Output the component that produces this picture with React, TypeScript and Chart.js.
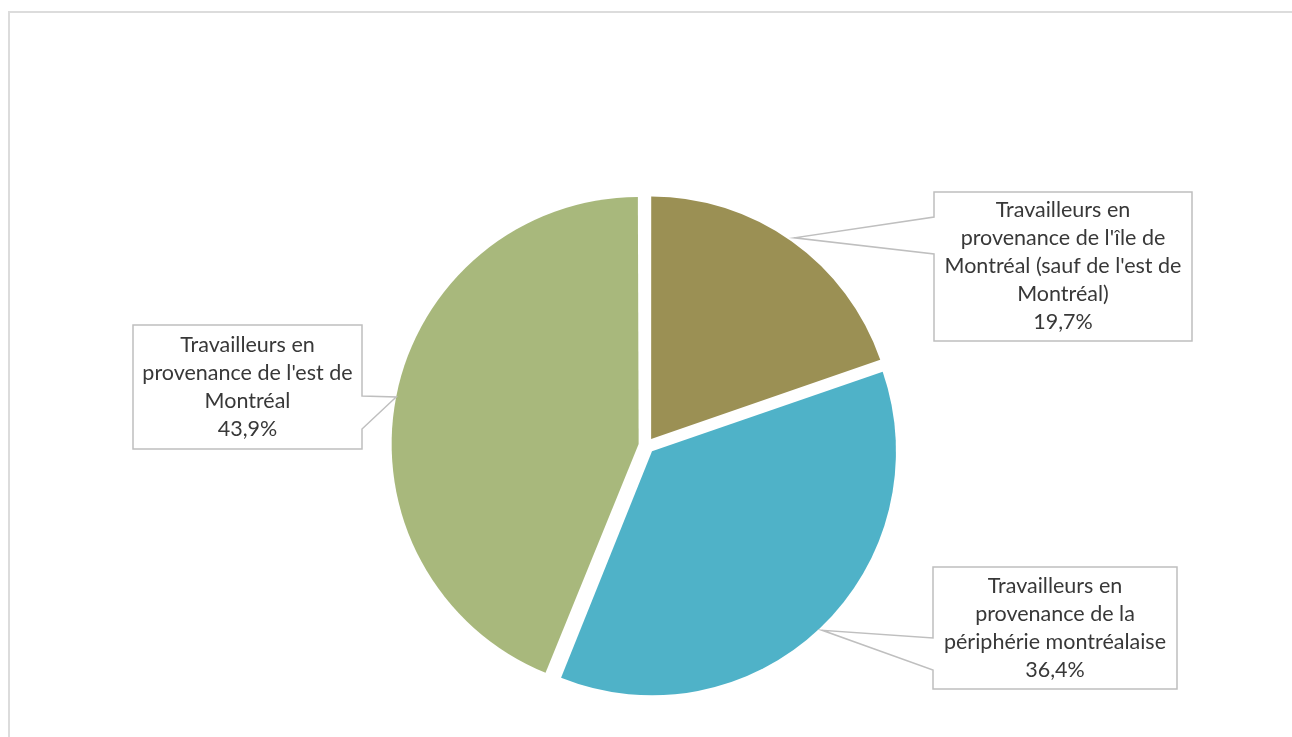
import React, { useEffect, useRef } from "react";
import { Chart, registerables } from "chart.js";

Chart.register(...registerables);

// ---- data ----
const categories = [
  "Travailleurs en provenance de l'île de Montréal (sauf de l'est de Montréal)",
  "Travailleurs en provenance de la périphérie montréalaise",
  "Travailleurs en provenance de l'est de Montréal",
];
const values = [19.7, 36.4, 43.9];
const labelLines = [
  ["Travailleurs en", "provenance de l'île de", "Montréal (sauf de l'est de", "Montréal)"],
  ["Travailleurs en", "provenance de la", "périphérie montréalaise"],
  ["Travailleurs en", "provenance de l'est de", "Montréal"],
];
const colors = ["#9B9054", "#4FB2C8", "#A8B87C"];

// ---- layout (callout boxes) ----
const callouts = [
  { x: 934, y: 192, w: 258, h: 149, side: "left", g1: 217, g2: 254 },
  { x: 933, y: 567, w: 244, h: 122, side: "left", g1: 638, g2: 670 },
  { x: 133, y: 325, w: 229, h: 124, side: "right", g1: 396, g2: 429 },
];

const OFFSET = 32; // chart.js translates arcs by offset/4
const fmt = (v: number) => v.toFixed(1).replace(".", ",") + "%";

const calloutPlugin = {
  id: "callouts",
  beforeDraw(chart: any) {
    const ctx = chart.ctx;
    ctx.save();
    ctx.strokeStyle = "#dcdcdc";
    ctx.lineWidth = 2;
    ctx.beginPath();
    ctx.moveTo(9, 1000);
    ctx.lineTo(9, 12);
    ctx.lineTo(2000, 12);
    ctx.stroke();
    ctx.restore();
  },
  afterDatasetsDraw(chart: any) {
    const ctx = chart.ctx;
    const meta = chart.getDatasetMeta(0);
    ctx.save();
    meta.data.forEach((arc: any, i: number) => {
      const { x, y, startAngle, endAngle, outerRadius } = arc.getProps(
        ["x", "y", "startAngle", "endAngle", "outerRadius"],
        true
      );
      const mid = (startAngle + endAngle) / 2;
      const d = OFFSET / 4 + outerRadius + 5;
      const tx = x + Math.cos(mid) * d;
      const ty = y + Math.sin(mid) * d;
      const c = callouts[i];
      ctx.beginPath();
      if (c.side === "left") {
        ctx.moveTo(c.x, c.y);
        ctx.lineTo(c.x + c.w, c.y);
        ctx.lineTo(c.x + c.w, c.y + c.h);
        ctx.lineTo(c.x, c.y + c.h);
        ctx.lineTo(c.x, c.g2);
        ctx.lineTo(tx, ty);
        ctx.lineTo(c.x, c.g1);
        ctx.closePath();
      } else {
        ctx.moveTo(c.x, c.y);
        ctx.lineTo(c.x + c.w, c.y);
        ctx.lineTo(c.x + c.w, c.g1);
        ctx.lineTo(tx, ty);
        ctx.lineTo(c.x + c.w, c.g2);
        ctx.lineTo(c.x + c.w, c.y + c.h);
        ctx.lineTo(c.x, c.y + c.h);
        ctx.closePath();
      }
      ctx.fillStyle = "#ffffff";
      ctx.fill();
      ctx.strokeStyle = "#bfbfbf";
      ctx.lineWidth = 1.5;
      ctx.stroke();

      const lines = [...labelLines[i], fmt(values[i])];
      const lh = 28;
      const cx = c.x + c.w / 2;
      const cy = c.y + c.h / 2;
      ctx.fillStyle = "#383838";
      ctx.font = "21.5px Lato";
      ctx.textAlign = "center";
      ctx.textBaseline = "middle";
      lines.forEach((t, k) => {
        ctx.fillText(t, cx, cy + (k - (lines.length - 1) / 2) * lh);
      });
    });
    ctx.restore();
  },
};

export default function App() {
  const ref = useRef<HTMLCanvasElement>(null);
  useEffect(() => {
    if (!ref.current) return;
    const chart = new Chart(ref.current, {
      type: "pie",
      data: {
        labels: categories,
        datasets: [
          {
            data: values,
            backgroundColor: colors,
            borderWidth: 0,
            offset: OFFSET,
          },
        ],
      },
      options: {
        responsive: true,
        maintainAspectRatio: false,
        animation: false,
        events: [],
        radius: 242,
        layout: { padding: { left: 1, right: 0, top: 154, bottom: 0 } },
        plugins: { legend: { display: false }, tooltip: { enabled: false } },
      } as any,
      plugins: [calloutPlugin],
    });
    return () => chart.destroy();
  }, []);
  return (
    <div style={{ position: "absolute", left: 0, top: 0, width: 1292, height: 737, background: "#fff" }}>
      <canvas ref={ref} />
    </div>
  );
}
